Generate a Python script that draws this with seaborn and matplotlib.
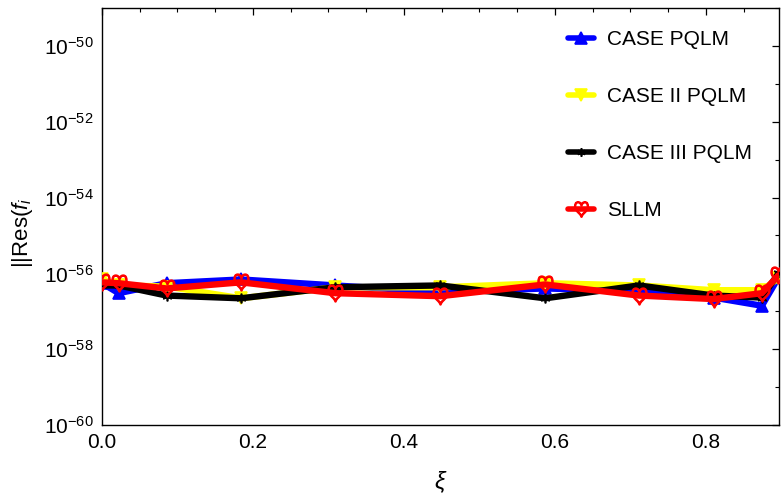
import matplotlib
matplotlib.use("Agg")
import matplotlib.pyplot as plt
import seaborn as sns
import pandas as pd
from matplotlib.lines import Line2D
from matplotlib.ticker import FixedLocator, NullFormatter, MultipleLocator, FormatStrFormatter

sns.set_theme(style="white")
plt.rcParams['font.family'] = ['Liberation Sans', 'DejaVu Sans']
plt.rcParams['mathtext.fontset'] = 'custom'
plt.rcParams['mathtext.rm'] = 'Liberation Sans'
plt.rcParams['mathtext.it'] = 'Liberation Sans:italic'
plt.rcParams['text.color'] = 'black'
plt.rcParams['axes.labelcolor'] = 'black'
plt.rcParams['xtick.color'] = 'black'
plt.rcParams['ytick.color'] = 'black'

xi = [0.0, 0.022, 0.0855, 0.184, 0.309, 0.448, 0.587, 0.711, 0.810, 0.874, 0.896]
case1 = [5.5e-57, 3.0e-57, 5.5e-57, 6.9e-57, 4.8e-57, 3.2e-57, 4.0e-57, 3.4e-57, 2.3e-57, 1.4e-57, 7.8e-57]
case2 = [6.9e-57, 4.8e-57, 4.5e-57, 2.2e-57, 4.3e-57, 4.3e-57, 5.5e-57, 4.8e-57, 3.6e-57, 3.6e-57, 7.4e-57]
case3 = [4.8e-57, 4.8e-57, 2.6e-57, 2.2e-57, 4.3e-57, 4.8e-57, 2.2e-57, 4.8e-57, 2.6e-57, 2.3e-57, 1.0e-56]
sllm = [5.8e-57, 5.5e-57, 4.0e-57, 5.8e-57, 3.0e-57, 2.5e-57, 5.1e-57, 2.6e-57, 2.1e-57, 3.0e-57, 8.9e-57]

labels = ["CASE PQLM", "CASE II PQLM", "CASE III PQLM", "SLLM"]
colors = ["#0000ff", "#ffff00", "#000000", "#ff0000"]
series = [case1, case2, case3, sllm]
markers = ["^", "v", (6, 2, 0), r"$\heartsuit$"]
msizes = [9, 9, 7, 12]

fig = plt.figure(figsize=(7.83, 5.01), dpi=100)
ax = fig.add_axes([102/783, 76/501, 677/783, 417/501])

lw = 4.6
handles = []
for lab, col, ys, mk, ms in zip(labels, colors, series, markers, msizes):
    df = pd.DataFrame({"xi": xi, "val": ys})
    sns.lineplot(data=df, x="xi", y="val", ax=ax, color=col, linewidth=lw,
                 marker=mk, markersize=ms, markeredgecolor=col, markerfacecolor=col,
                 markeredgewidth=1.2, legend=False, zorder=3)
    handles.append(Line2D([0], [0], color=col, lw=4.0, marker=mk, markersize=ms - 1,
                          markerfacecolor=col, markeredgecolor=col, markeredgewidth=1.2))

ax.set_yscale("log")
ax.set_xlim(0, 0.8967)
ax.set_ylim(1e-60, 1e-49)
ax.yaxis.set_major_locator(FixedLocator([10.0**e for e in range(-60, -49, 2)]))
ax.yaxis.set_minor_locator(FixedLocator([10.0**e for e in range(-59, -48, 2)]))
ax.yaxis.set_minor_formatter(NullFormatter())
ax.set_yticklabels([r"$10^{%d}$" % e for e in range(-60, -49, 2)])
ax.xaxis.set_major_locator(MultipleLocator(0.2))
ax.xaxis.set_minor_locator(MultipleLocator(0.05))
ax.xaxis.set_major_formatter(FormatStrFormatter("%.1f"))

ax.tick_params(axis="both", which="both", direction="in", top=True, right=True,
               labelsize=15, colors="black", pad=6)
ax.tick_params(which="major", length=5, width=0.9)
ax.tick_params(which="minor", length=3, width=0.8)
for s in ax.spines.values():
    s.set_color("black")
    s.set_linewidth(1.0)

ax.set_xlabel(r"$\xi$", fontsize=17, labelpad=12)
ax.set_ylabel(r"||Res($f_i$", fontsize=16)
ax.yaxis.set_label_coords(-0.099, 0.46)
ax.grid(False)

ax.legend(handles=handles, labels=labels, loc="upper left",
          bbox_to_anchor=(560/783, 1 - 22/501), bbox_transform=fig.transFigure,
          frameon=False, fontsize=15, handlelength=1.25, handletextpad=0.6,
          labelspacing=1.82, borderaxespad=0, labelcolor="black")

fig.savefig("out.png", dpi=100)
